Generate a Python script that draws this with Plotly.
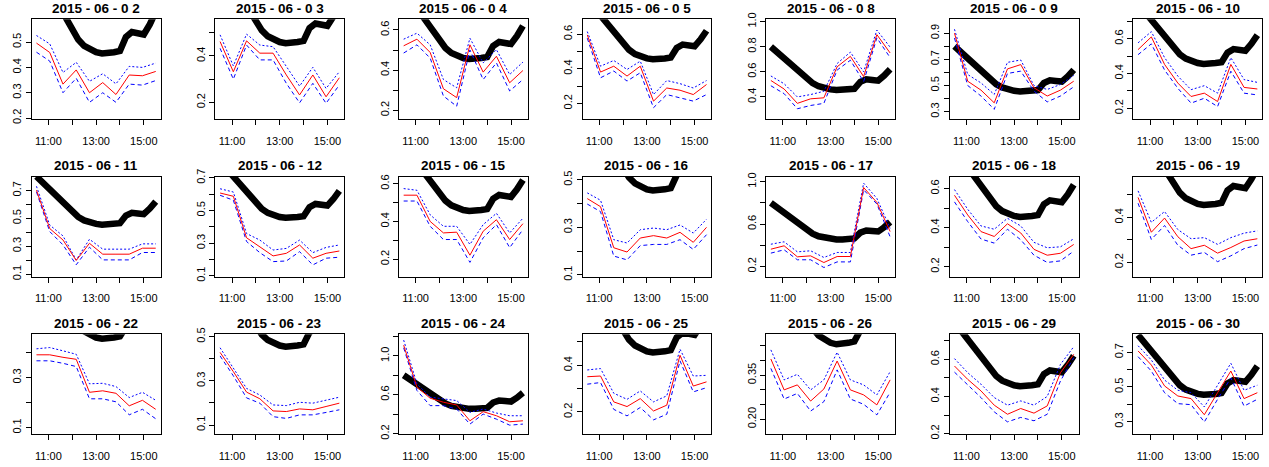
import plotly.graph_objects as go

# ---------------- data ----------------
panel_titles = [
    "2015 - 06 - 0 2", "2015 - 06 - 0 3", "2015 - 06 - 0 4", "2015 - 06 - 0 5",
    "2015 - 06 - 0 8", "2015 - 06 - 0 9", "2015 - 06 - 10",
    "2015 - 06 - 11", "2015 - 06 - 12", "2015 - 06 - 15", "2015 - 06 - 16",
    "2015 - 06 - 17", "2015 - 06 - 18", "2015 - 06 - 19",
    "2015 - 06 - 22", "2015 - 06 - 23", "2015 - 06 - 24", "2015 - 06 - 25",
    "2015 - 06 - 26", "2015 - 06 - 29", "2015 - 06 - 30",
]

# observation times (decimal hours)
obs_hours = [10.5, 11.056, 11.611, 12.167, 12.722, 13.278, 13.833, 14.389, 14.944, 15.5]

# reference (thick black) curve, identical in every panel
ref_hours = [10.5, 11.0, 11.5, 12.0, 12.25, 12.5, 12.75, 13.0, 13.25, 13.5,
             13.75, 14.0, 14.25, 14.5, 14.75, 15.0, 15.25, 15.5]
ref_values = [0.80, 0.715, 0.625, 0.545, 0.51, 0.485, 0.47, 0.46, 0.455, 0.455,
              0.46, 0.465, 0.52, 0.54, 0.535, 0.53, 0.57, 0.62]

fit_values = [
    [0.496, 0.459, 0.334, 0.39, 0.30, 0.34, 0.293, 0.37, 0.367, 0.384],
    [0.462, 0.332, 0.465, 0.412, 0.412, 0.318, 0.232, 0.318, 0.224, 0.306],
    [0.521, 0.554, 0.488, 0.307, 0.263, 0.526, 0.39, 0.469, 0.337, 0.398],
    [0.596, 0.381, 0.415, 0.358, 0.415, 0.213, 0.289, 0.276, 0.251, 0.309],
    [0.531, 0.463, 0.349, 0.385, 0.393, 0.64, 0.723, 0.562, 0.896, 0.75],
    [0.90, 0.533, 0.465, 0.368, 0.627, 0.66, 0.483, 0.42, 0.465, 0.533],
    [0.537, 0.61, 0.452, 0.345, 0.268, 0.287, 0.239, 0.452, 0.32, 0.311],
    [0.702, 0.427, 0.345, 0.198, 0.321, 0.243, 0.243, 0.243, 0.286, 0.286],
    [0.607, 0.587, 0.333, 0.279, 0.222, 0.238, 0.289, 0.208, 0.238, 0.252],
    [0.539, 0.539, 0.40, 0.339, 0.343, 0.221, 0.348, 0.409, 0.304, 0.388],
    [0.421, 0.387, 0.214, 0.196, 0.255, 0.265, 0.255, 0.279, 0.237, 0.30],
    [0.363, 0.395, 0.291, 0.30, 0.237, 0.294, 0.294, 0.946, 0.805, 0.53],
    [0.566, 0.465, 0.38, 0.355, 0.42, 0.373, 0.289, 0.259, 0.269, 0.314],
    [0.489, 0.334, 0.397, 0.314, 0.261, 0.276, 0.241, 0.266, 0.295, 0.305],
    [0.391, 0.391, 0.381, 0.373, 0.241, 0.247, 0.237, 0.187, 0.209, 0.173],
    [0.429, 0.342, 0.249, 0.219, 0.164, 0.161, 0.173, 0.169, 0.184, 0.199],
    [1.11, 0.679, 0.564, 0.523, 0.495, 0.332, 0.426, 0.384, 0.322, 0.332],
    [0.351, 0.354, 0.243, 0.223, 0.257, 0.204, 0.229, 0.443, 0.311, 0.329],
    [0.405, 0.30, 0.317, 0.262, 0.303, 0.398, 0.30, 0.283, 0.249, 0.334],
    [0.564, 0.492, 0.43, 0.353, 0.304, 0.335, 0.31, 0.349, 0.528, 0.627],
    [0.708, 0.627, 0.506, 0.448, 0.433, 0.34, 0.467, 0.592, 0.433, 0.467],
]

upper_values = [
    [0.526, 0.493, 0.38, 0.42, 0.345, 0.375, 0.335, 0.404, 0.40, 0.417],
    [0.491, 0.357, 0.494, 0.447, 0.44, 0.353, 0.27, 0.351, 0.26, 0.332],
    [0.554, 0.584, 0.526, 0.353, 0.312, 0.559, 0.436, 0.502, 0.378, 0.44],
    [0.615, 0.415, 0.448, 0.396, 0.444, 0.251, 0.332, 0.314, 0.289, 0.332],
    [0.567, 0.505, 0.40, 0.419, 0.445, 0.666, 0.757, 0.60, 0.932, 0.796],
    [0.93, 0.584, 0.52, 0.432, 0.677, 0.695, 0.50, 0.47, 0.508, 0.577],
    [0.576, 0.64, 0.491, 0.385, 0.307, 0.33, 0.287, 0.491, 0.365, 0.349],
    [0.73, 0.452, 0.374, 0.202, 0.35, 0.279, 0.279, 0.279, 0.317, 0.317],
    [0.633, 0.613, 0.359, 0.319, 0.258, 0.268, 0.319, 0.242, 0.274, 0.289],
    [0.574, 0.565, 0.435, 0.374, 0.374, 0.278, 0.383, 0.443, 0.339, 0.417],
    [0.445, 0.414, 0.248, 0.234, 0.29, 0.297, 0.29, 0.31, 0.276, 0.334],
    [0.41, 0.433, 0.338, 0.348, 0.285, 0.332, 0.332, 0.987, 0.843, 0.56],
    [0.595, 0.494, 0.409, 0.392, 0.448, 0.409, 0.325, 0.297, 0.302, 0.343],
    [0.518, 0.378, 0.426, 0.346, 0.305, 0.31, 0.28, 0.31, 0.33, 0.34],
    [0.415, 0.42, 0.407, 0.393, 0.275, 0.277, 0.264, 0.22, 0.241, 0.209],
    [0.45, 0.36, 0.266, 0.236, 0.191, 0.188, 0.203, 0.199, 0.214, 0.226],
    [1.162, 0.713, 0.575, 0.557, 0.54, 0.419, 0.453, 0.412, 0.384, 0.384],
    [0.38, 0.386, 0.28, 0.254, 0.29, 0.243, 0.269, 0.469, 0.354, 0.357],
    [0.436, 0.334, 0.353, 0.30, 0.334, 0.428, 0.334, 0.317, 0.283, 0.362],
    [0.604, 0.528, 0.466, 0.394, 0.353, 0.376, 0.353, 0.40, 0.573, 0.668],
    [0.738, 0.656, 0.54, 0.481, 0.467, 0.385, 0.51, 0.637, 0.481, 0.51],
]

lower_values = [
    [0.46, 0.425, 0.30, 0.357, 0.262, 0.30, 0.262, 0.334, 0.33, 0.348],
    [0.433, 0.30, 0.447, 0.383, 0.383, 0.282, 0.198, 0.282, 0.196, 0.275],
    [0.485, 0.526, 0.46, 0.271, 0.22, 0.50, 0.353, 0.436, 0.296, 0.353],
    [0.577, 0.348, 0.387, 0.329, 0.377, 0.175, 0.251, 0.232, 0.213, 0.251],
    [0.489, 0.426, 0.306, 0.332, 0.349, 0.614, 0.692, 0.522, 0.87, 0.713],
    [0.863, 0.50, 0.42, 0.318, 0.592, 0.61, 0.458, 0.375, 0.42, 0.49],
    [0.508, 0.57, 0.42, 0.315, 0.23, 0.258, 0.21, 0.413, 0.287, 0.277],
    [0.69, 0.405, 0.31, 0.167, 0.293, 0.202, 0.202, 0.202, 0.255, 0.255],
    [0.593, 0.563, 0.31, 0.242, 0.187, 0.191, 0.248, 0.167, 0.208, 0.214],
    [0.508, 0.508, 0.374, 0.304, 0.304, 0.183, 0.313, 0.383, 0.261, 0.357],
    [0.398, 0.366, 0.179, 0.163, 0.223, 0.228, 0.228, 0.248, 0.207, 0.269],
    [0.326, 0.357, 0.263, 0.263, 0.19, 0.243, 0.243, 0.924, 0.79, 0.48],
    [0.532, 0.431, 0.342, 0.321, 0.392, 0.338, 0.259, 0.222, 0.23, 0.28],
    [0.463, 0.302, 0.364, 0.276, 0.232, 0.244, 0.203, 0.229, 0.261, 0.277],
    [0.367, 0.367, 0.357, 0.344, 0.215, 0.215, 0.203, 0.151, 0.173, 0.135],
    [0.413, 0.323, 0.223, 0.199, 0.138, 0.13, 0.146, 0.146, 0.157, 0.169],
    [1.083, 0.644, 0.488, 0.488, 0.453, 0.298, 0.401, 0.349, 0.287, 0.298],
    [0.319, 0.326, 0.211, 0.183, 0.219, 0.166, 0.19, 0.419, 0.286, 0.304],
    [0.373, 0.269, 0.288, 0.228, 0.26, 0.368, 0.269, 0.251, 0.215, 0.292],
    [0.531, 0.46, 0.394, 0.317, 0.263, 0.287, 0.269, 0.304, 0.484, 0.609],
    [0.675, 0.592, 0.467, 0.404, 0.398, 0.298, 0.429, 0.552, 0.39, 0.429],
]

# y-axis limits for each panel
y_limits = [
    [0.195, 0.59], [0.127, 0.558], [0.155, 0.653], [0.108, 0.686],
    [0.222, 1.018], [0.242, 1.006], [0.137, 0.711],
    [0.083, 0.80], [0.096, 0.708], [0.108, 0.638], [0.093, 0.514],
    [0.105, 1.05], [0.15, 0.662], [0.137, 0.582],
    [0.073, 0.473], [0.058, 0.511], [0.193, 1.222], [0.104, 0.533],
    [0.149, 0.489], [0.196, 0.735], [0.227, 0.804],
]

# y tick values and labels ("" = unlabeled tick)
y_tick_vals = [
    [0.2, 0.3, 0.4, 0.5], [0.2, 0.3, 0.4, 0.5], [0.2, 0.3, 0.4, 0.5, 0.6], [0.2, 0.3, 0.4, 0.5, 0.6],
    [0.4, 0.6, 0.8, 1.0], [0.3, 0.4, 0.5, 0.6, 0.7, 0.8, 0.9], [0.2, 0.3, 0.4, 0.5, 0.6, 0.7],
    [0.1, 0.2, 0.3, 0.4, 0.5, 0.6, 0.7], [0.1, 0.2, 0.3, 0.4, 0.5, 0.6, 0.7],
    [0.2, 0.3, 0.4, 0.5, 0.6], [0.1, 0.2, 0.3, 0.4, 0.5],
    [0.2, 0.4, 0.6, 0.8, 1.0], [0.2, 0.3, 0.4, 0.5, 0.6], [0.2, 0.3, 0.4, 0.5],
    [0.1, 0.2, 0.3, 0.4], [0.1, 0.2, 0.3, 0.4, 0.5], [0.2, 0.4, 0.6, 0.8, 1.0, 1.2],
    [0.2, 0.3, 0.4, 0.5], [0.20, 0.25, 0.30, 0.35, 0.40, 0.45],
    [0.2, 0.3, 0.4, 0.5, 0.6, 0.7], [0.3, 0.4, 0.5, 0.6, 0.7],
]
y_tick_text = [
    ["0.2", "0.3", "0.4", "0.5"], ["0.2", "", "0.4", ""], ["0.2", "", "0.4", "", "0.6"], ["0.2", "", "0.4", "", "0.6"],
    ["0.4", "0.6", "0.8", "1.0"], ["0.3", "", "0.5", "", "0.7", "", "0.9"], ["0.2", "", "0.4", "", "0.6", ""],
    ["0.1", "", "0.3", "", "0.5", "", "0.7"], ["0.1", "", "0.3", "", "0.5", "", "0.7"],
    ["0.2", "", "0.4", "", "0.6"], ["0.1", "", "0.3", "", "0.5"],
    ["0.2", "", "0.6", "", "1.0"], ["0.2", "", "0.4", "", "0.6"], ["0.2", "", "0.4", ""],
    ["0.1", "", "0.3", ""], ["0.1", "", "0.3", "", "0.5"], ["0.2", "", "0.6", "", "1.0", ""],
    ["0.2", "", "0.4", ""], ["0.20", "", "", "0.35", "", ""],
    ["0.2", "", "0.4", "", "0.6", ""], ["0.3", "", "0.5", "", "0.7"],
]

x_tick_vals = [11, 12, 13, 14, 15]
x_tick_text = ["11:00", "", "13:00", "", "15:00"]

# ---------------- layout geometry (pixels) ----------------
W, H = 1269, 467
n_cols = 7
col_left0, col_pitch, box_w = 31.7, 183.6, 128.8
row_tops = [19.3, 176.5, 334.3]
box_h = 100.0

fig = go.Figure()
layout = dict(
    width=W, height=H, autosize=False,
    margin=dict(l=0, r=0, t=0, b=0, pad=0),
    paper_bgcolor="white", plot_bgcolor="white",
    showlegend=False,
    font=dict(family="Liberation Sans, Arial, sans-serif", size=11, color="black"),
)
annotations = []

for i, title in enumerate(panel_titles):
    r, c = divmod(i, n_cols)
    left = col_left0 + c * col_pitch
    top = row_tops[r]
    xd = [left / W, (left + box_w) / W]
    yd = [1 - (top + box_h) / H, 1 - top / H]
    sfx = "" if i == 0 else str(i + 1)
    xa, ya = "x" + sfx, "y" + sfx

    fig.add_trace(go.Scatter(x=ref_hours, y=ref_values, mode="lines",
                             line=dict(color="black", width=6.5),
                             xaxis=xa, yaxis=ya, hoverinfo="skip"))
    fig.add_trace(go.Scatter(x=obs_hours, y=upper_values[i], mode="lines",
                             line=dict(color="#0000FF", width=1, dash="2px,2px"),
                             xaxis=xa, yaxis=ya))
    fig.add_trace(go.Scatter(x=obs_hours, y=lower_values[i], mode="lines",
                             line=dict(color="#0000FF", width=1, dash="4px,3px"),
                             xaxis=xa, yaxis=ya))
    fig.add_trace(go.Scatter(x=obs_hours, y=fit_values[i], mode="lines",
                             line=dict(color="#FF0000", width=1),
                             xaxis=xa, yaxis=ya))

    layout["xaxis" + sfx] = dict(
        domain=xd, anchor=ya, range=[10.3, 15.7], automargin=False,
        tickvals=x_tick_vals, ticktext=x_tick_text,
        ticks="outside", ticklen=5, tickwidth=1, tickcolor="black",
        showline=True, mirror=True, linecolor="black", linewidth=1,
        showgrid=False, zeroline=False, ticklabelstandoff=6,
        tickfont=dict(size=11, color="black"),
    )
    layout["yaxis" + sfx] = dict(
        domain=yd, anchor=xa, range=y_limits[i], automargin=False,
        tickvals=y_tick_vals[i], ticktext=y_tick_text[i],
        ticks="outside", ticklen=5, tickwidth=1, tickcolor="black",
        showline=True, mirror=True, linecolor="black", linewidth=1,
        showgrid=False, zeroline=False, tickangle=-90,
        tickfont=dict(size=11, color="black"),
    )
    annotations.append(dict(
        text="<b>" + title + "</b>", xref="paper", yref="paper",
        x=(xd[0] + xd[1]) / 2, y=1 - (top - 11) / H,
        xanchor="center", yanchor="middle", showarrow=False,
        font=dict(family="Liberation Sans, Arial, sans-serif", size=13.5, color="black"),
    ))

layout["annotations"] = annotations
fig.update_layout(**layout)
fig.write_html("out.html",
               config={"displayModeBar": False, "staticPlot": True},
               post_script="document.body.style.margin='0';document.body.style.overflow='hidden';")
